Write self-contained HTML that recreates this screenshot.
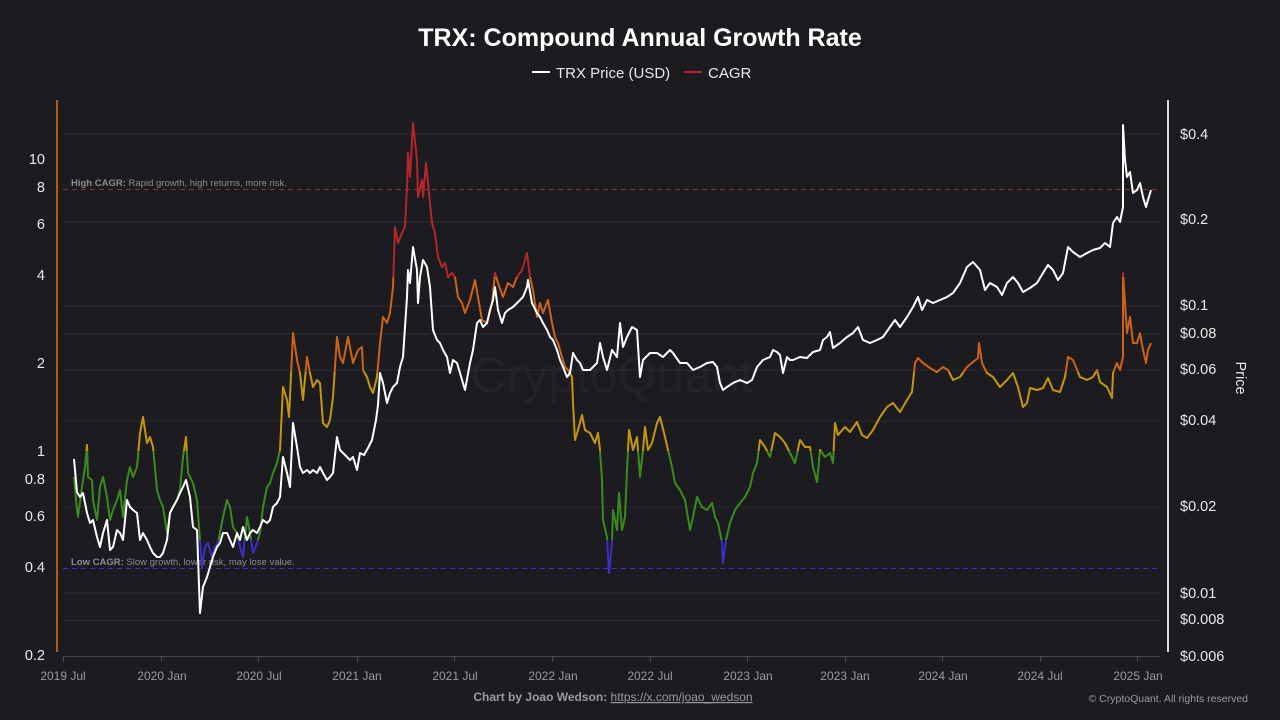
<!DOCTYPE html>
<html>
<head>
<meta charset="utf-8">
<style>
  html,body{margin:0;padding:0;background:#1b1b20;}
  body{width:1280px;height:720px;overflow:hidden;font-family:"Liberation Sans",sans-serif;}
  svg{display:block;}
</style>
</head>
<body>
<svg width="1280" height="720" viewBox="0 0 1280 720" xmlns="http://www.w3.org/2000/svg" font-family="Liberation Sans, sans-serif">
  <defs>
    <linearGradient id="cg" gradientUnits="userSpaceOnUse" x1="0" y1="100" x2="0" y2="660">
      <stop offset="0" stop-color="#b3262a"/>
      <stop offset="0.316" stop-color="#b3262a"/>
      <stop offset="0.316" stop-color="#cc6318"/>
      <stop offset="0.486" stop-color="#cc6318"/>
      <stop offset="0.486" stop-color="#c4960f"/>
      <stop offset="0.627" stop-color="#c4960f"/>
      <stop offset="0.627" stop-color="#3b8a1d"/>
      <stop offset="0.786" stop-color="#3b8a1d"/>
      <stop offset="0.786" stop-color="#3c2ec8"/>
      <stop offset="1" stop-color="#3c2ec8"/>
    </linearGradient>
  </defs>
  <rect x="0" y="0" width="1280" height="720" fill="#1b1b20"/>

  <!-- Title -->
  <text x="640" y="46" text-anchor="middle" font-size="25" font-weight="bold" fill="#ffffff">TRX: Compound Annual Growth Rate</text>
  <!-- Legend -->
  <line x1="532" y1="72" x2="550" y2="72" stroke="#ffffff" stroke-width="2"/>
  <text x="556" y="78" font-size="15" fill="#e8e8e8">TRX Price (USD)</text>
  <line x1="684" y1="72" x2="702" y2="72" stroke="#b3262a" stroke-width="2"/>
  <text x="708" y="78" font-size="15" fill="#e8e8e8">CAGR</text>

  <!-- Watermark -->
  <text x="612" y="392" text-anchor="middle" font-size="50" fill="#ffffff" fill-opacity="0.035">CryptoQuant</text>

  <!-- Gridlines -->
  <g stroke="#2a2a30" stroke-width="1">
    <line x1="63" y1="134" x2="1160" y2="134"/>
    <line x1="63" y1="221.5" x2="1160" y2="221.5"/>
    <line x1="63" y1="306" x2="1160" y2="306"/>
    <line x1="63" y1="334" x2="1160" y2="334"/>
    <line x1="63" y1="370" x2="1160" y2="370"/>
    <line x1="63" y1="421" x2="1160" y2="421"/>
    <line x1="63" y1="507" x2="1160" y2="507"/>
    <line x1="63" y1="593" x2="1160" y2="593"/>
    <line x1="63" y1="620.5" x2="1160" y2="620.5"/>
  </g>

  <!-- X axis -->
  <line x1="63" y1="656.5" x2="1160" y2="656.5" stroke="#47474d" stroke-width="1"/>
  <g stroke="#47474d" stroke-width="1">
    <line x1="63.5" y1="656" x2="63.5" y2="662"/>
    <line x1="161.5" y1="656" x2="161.5" y2="662"/>
    <line x1="258.5" y1="656" x2="258.5" y2="662"/>
    <line x1="357.5" y1="656" x2="357.5" y2="662"/>
    <line x1="454.5" y1="656" x2="454.5" y2="662"/>
    <line x1="552.5" y1="656" x2="552.5" y2="662"/>
    <line x1="650.5" y1="656" x2="650.5" y2="662"/>
    <line x1="747.5" y1="656" x2="747.5" y2="662"/>
    <line x1="845.5" y1="656" x2="845.5" y2="662"/>
    <line x1="942.5" y1="656" x2="942.5" y2="662"/>
    <line x1="1040.5" y1="656" x2="1040.5" y2="662"/>
    <line x1="1137.5" y1="656" x2="1137.5" y2="662"/>
  </g>
  <g font-size="12" fill="#9a9aa2" text-anchor="middle">
    <text x="63" y="680">2019 Jul</text>
    <text x="162" y="680">2020 Jan</text>
    <text x="259" y="680">2020 Jul</text>
    <text x="357" y="680">2021 Jan</text>
    <text x="455" y="680">2021 Jul</text>
    <text x="553" y="680">2022 Jan</text>
    <text x="650" y="680">2022 Jul</text>
    <text x="748" y="680">2023 Jan</text>
    <text x="845" y="680">2023 Jan</text>
    <text x="943" y="680">2024 Jan</text>
    <text x="1040" y="680">2024 Jul</text>
    <text x="1138" y="680">2025 Jan</text>
  </g>

  <!-- Left axis -->
  <line x1="57" y1="100" x2="57" y2="652" stroke="#b5561a" stroke-width="2"/>
  <g font-size="14.5" fill="#eaeaea" text-anchor="end">
    <text x="45" y="164">10</text>
    <text x="45" y="192">8</text>
    <text x="45" y="229">6</text>
    <text x="45" y="280">4</text>
    <text x="45" y="368">2</text>
    <text x="45" y="456">1</text>
    <text x="45" y="484">0.8</text>
    <text x="45" y="521">0.6</text>
    <text x="45" y="572">0.4</text>
    <text x="45" y="660">0.2</text>
  </g>

  <!-- Right axis -->
  <line x1="1168" y1="100" x2="1168" y2="652" stroke="#dcdcdc" stroke-width="2"/>
  <g font-size="14.5" fill="#eaeaea" text-anchor="start">
    <text x="1180" y="139">$0.4</text>
    <text x="1180" y="224">$0.2</text>
    <text x="1180" y="310">$0.1</text>
    <text x="1180" y="338">$0.08</text>
    <text x="1180" y="374">$0.06</text>
    <text x="1180" y="425">$0.04</text>
    <text x="1180" y="511">$0.02</text>
    <text x="1180" y="598">$0.01</text>
    <text x="1180" y="624">$0.008</text>
    <text x="1180" y="661">$0.006</text>
  </g>
  <text x="0" y="0" font-size="14.5" fill="#eaeaea" text-anchor="middle" transform="translate(1236,378) rotate(90)">Price</text>

  <!-- Threshold lines -->
  <line x1="63" y1="189.5" x2="1160" y2="189.5" stroke="#8e2f33" stroke-width="1" stroke-dasharray="5,4"/>
  <line x1="63" y1="568.5" x2="1160" y2="568.5" stroke="#3d2fd0" stroke-width="1" stroke-dasharray="5,4"/>
  <text x="71" y="186" font-size="9.5" fill="#8c8c94"><tspan font-weight="bold">High CAGR:</tspan> Rapid growth, high returns, more risk.</text>
  <text x="71" y="565" font-size="9.5" fill="#8c8c94"><tspan font-weight="bold">Low CAGR:</tspan> Slow growth, lower risk, may lose value.</text>

  <!-- CAGR series -->
  <polyline fill="none" stroke="url(#cg)" stroke-width="2" stroke-linejoin="round" points="74,477 77,510 78,517 82,487 85,467 87,445 88,477 92,480 93,500 97,520 100,487 103,477 107,497 110,520 113,510 117,500 120,490 123,517 127,480 130,467 133,477 137,467 140,433 143,417 147,443 150,437 153,447 157,490 160,500 163,507 167,533 170,513 173,507 177,500 180,490 183,457 186,437 188,473 193,483 197,500 200,540 202,567 205,547 208,543 212,557 215,547 218,543 223,517 227,500 230,507 233,527 237,533 240,547 243,557 247,517 250,533 253,553 257,543 260,533 263,507 267,487 270,483 273,473 277,463 280,450 283,387 287,400 289,417 293,333 297,360 300,373 303,400 307,357 310,373 313,387 317,380 320,383 323,423 327,427 330,420 333,397 337,337 340,357 343,363 348,337 353,363 358,350 362,347 363,370 367,377 370,387 373,393 377,377 380,343 383,317 387,323 390,313 393,287 395,227 398,243 402,233 405,227 407,187 408,153 410,177 413,123 417,160 418,197 422,180 423,197 426,163 428,183 432,223 435,233 438,257 442,267 445,263 448,277 452,273 455,277 458,297 462,303 465,313 470,300 475,280 478,297 482,320 487,323 492,303 495,273 498,283 503,297 508,283 513,287 517,277 522,270 525,260 527,253 530,277 533,290 537,317 540,303 543,313 548,300 552,323 555,337 558,343 562,357 565,367 568,370 572,377 573,403 575,440 578,430 582,415 585,430 590,433 595,443 598,433 600,450 602,480 603,520 607,537 609,573 612,543 613,510 617,530 619,493 622,530 625,517 627,470 629,430 633,450 637,437 640,477 643,450 645,427 648,450 652,443 657,423 660,417 665,437 668,450 672,467 675,483 680,490 685,500 690,530 693,517 697,497 702,507 707,510 712,503 715,517 718,523 722,543 723,563 726,540 730,523 735,510 740,503 745,497 750,487 753,473 757,463 760,440 765,447 770,457 775,433 780,437 785,443 790,453 795,463 800,440 805,447 810,447 813,467 817,482 820,450 825,457 830,453 833,463 835,423 838,435 845,427 850,432 857,422 862,435 867,438 873,430 880,417 887,407 893,403 900,412 907,400 912,392 915,363 918,358 923,363 930,368 937,372 943,367 948,370 953,380 960,377 967,367 973,362 978,358 979,343 982,363 987,373 993,377 1000,387 1007,380 1013,373 1018,387 1023,407 1027,403 1030,388 1037,390 1043,388 1048,378 1053,390 1060,392 1065,377 1068,357 1073,360 1080,377 1087,380 1093,377 1097,370 1100,382 1107,387 1112,398 1113,373 1117,363 1120,370 1123,357 1123,273 1125,303 1127,333 1130,317 1133,343 1137,343 1140,333 1143,350 1146,363 1148,350 1151,343"/>

  <!-- Price series -->
  <polyline fill="none" stroke="#ffffff" stroke-width="2" stroke-linejoin="round" points="74,459 77,492 80,497 83,493 87,513 90,523 93,520 97,537 100,547 103,533 107,520 110,550 113,547 117,530 120,533 123,540 127,500 130,507 133,510 137,513 140,540 143,533 147,540 150,547 153,553 157,557 160,557 163,553 167,540 170,513 173,507 177,500 180,493 183,487 186,480 190,497 193,527 197,530 200,613 203,587 207,577 210,567 213,557 217,547 220,543 223,533 227,533 230,540 233,547 237,533 240,540 243,527 247,540 250,533 253,530 257,533 260,527 263,520 267,523 270,520 273,507 277,503 280,497 283,457 287,473 290,487 293,423 297,447 300,467 303,473 307,470 310,473 313,470 317,473 320,467 323,473 327,480 330,477 333,473 337,437 340,450 343,453 347,457 350,460 353,457 357,470 360,453 364,455 368,448 372,440 376,420 378,405 380,373 383,383 387,403 390,393 393,387 397,383 400,367 403,357 407,297 408,270 410,283 413,247 417,270 418,303 420,277 423,260 427,267 430,287 433,330 437,340 440,343 443,350 447,357 450,373 453,360 457,363 460,373 465,390 470,363 473,350 477,323 480,320 483,327 487,323 490,310 493,300 495,287 498,310 502,323 505,313 508,310 513,307 517,303 520,300 523,297 527,287 528,280 532,303 537,313 540,317 543,323 547,330 550,337 553,340 557,350 560,360 563,367 567,377 570,373 573,353 577,360 580,363 583,370 587,370 590,370 593,367 597,363 600,343 603,357 607,370 612,350 617,357 620,323 623,347 627,337 632,327 637,330 640,377 643,360 650,353 657,353 663,357 670,350 673,353 680,363 687,363 693,370 700,367 707,363 713,362 717,367 720,383 723,390 727,387 733,383 740,380 747,383 752,380 757,367 763,360 770,357 773,350 777,352 780,355 783,373 787,357 790,360 793,360 800,357 807,358 813,352 820,350 823,340 827,337 830,332 833,348 840,343 847,337 853,333 858,327 863,340 870,343 877,340 883,337 890,327 895,320 900,327 907,317 913,307 918,297 922,310 927,300 933,303 940,300 947,297 953,293 960,283 967,267 973,262 980,270 985,290 990,283 997,287 1002,295 1007,283 1013,277 1018,283 1023,292 1030,288 1037,283 1043,273 1048,265 1053,270 1058,280 1063,273 1068,247 1073,252 1080,257 1087,253 1093,250 1100,248 1105,243 1110,247 1113,223 1117,217 1120,222 1123,207 1123,125 1125,160 1127,177 1130,172 1133,193 1137,190 1140,183 1143,197 1146,207 1148,200 1151,190"/>

  <!-- Footer -->
  <text x="613" y="701" text-anchor="middle" font-size="12" fill="#9a9aa2"><tspan font-weight="bold">Chart by Joao Wedson: </tspan><tspan text-decoration="underline">https://x.com/joao_wedson</tspan></text>
  <text x="1248" y="702" text-anchor="end" font-size="10.5" fill="#9a9aa2">© CryptoQuant. All rights reserved</text>
</svg>
</body>
</html>
